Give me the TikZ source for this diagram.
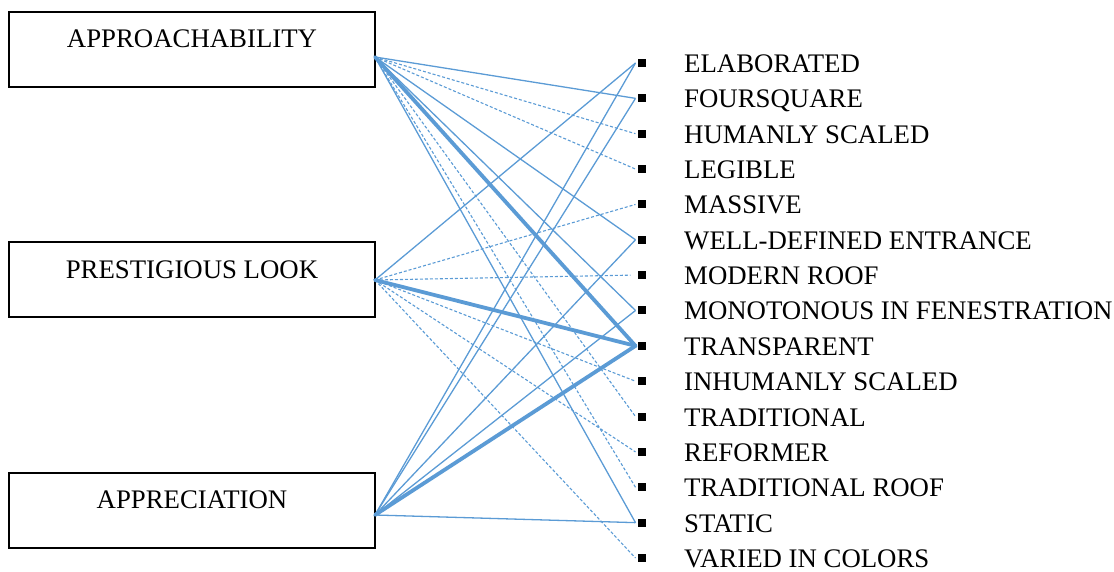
\documentclass[tikz,border=0pt]{standalone}
\usepackage{fontspec}
\setmainfont{Liberation Serif}
\definecolor{lnblue}{RGB}{91,155,213}
\begin{document}
\begin{tikzpicture}[x=1pt,y=-1pt,
  catbox/.style={draw=black,line width=2pt,minimum width=366pt,inner sep=0pt,
    text height=36pt,text depth=39pt,font=\fontsize{26.8}{30}\selectfont},
  bul/.style={fill=black,minimum size=8pt,inner sep=0pt,outer sep=2.5pt},
  lab/.style={anchor=base west,inner sep=0pt,font=\fontsize{26.8}{30}\selectfont},
  solidln/.style={draw=lnblue,line width=1.3pt},
  dashln/.style={draw=lnblue,line width=1.1pt,dash pattern=on 3pt off 2pt},
  thickln/.style={draw=lnblue,line width=3.8pt,line cap=round}]
\useasboundingbox (0,0) rectangle (1114,572);
% category boxes
\node[catbox] (A) at (192,49.5) {APPROACHABILITY};
\node[catbox] (P) at (192,279.5) {PRESTIGIOUS LOOK};
\node[catbox] (C) at (192,510) {APPRECIATION};
\coordinate (hA) at (375,57);
\coordinate (hP) at (375,280);
\coordinate (hC) at (375,515);
% items
\foreach \i/\t in {0/ELABORATED,1/FOURSQUARE,2/HUMANLY SCALED,3/LEGIBLE,4/MASSIVE,
  5/WELL-DEFINED ENTRANCE,6/MODERN ROOF,7/MONOTONOUS IN FENESTRATION,8/TRANSPARENT,
  9/INHUMANLY SCALED,10/TRADITIONAL,11/REFORMER,12/TRADITIONAL ROOF,13/STATIC,14/VARIED IN COLORS}{
  \pgfmathsetmacro{\yy}{63+35.357*\i}
  \node[bul] (b\i) at (642,\yy) {};
  \node[lab] (l\i) at (684,\yy+9.5) {\t};
}
% connections from APPROACHABILITY
\draw[solidln] (hA) -- (b1.west);
\draw[dashln] (hA) -- (b2.west);
\draw[dashln] (hA) -- (b3.west);
\draw[solidln] (hA) -- (b5.west);
\draw[solidln] (hA) -- (b7.west);
\draw[dashln] (hA) -- (b10.west);
\draw[dashln] (hA) -- (b12.west);
\draw[solidln] (hA) -- (b13.west);
% connections from PRESTIGIOUS LOOK
\draw[solidln] (hP) -- (b0.west);
\draw[dashln] (hP) -- (b4.west);
\draw[dashln] (hP) -- ([xshift=-5pt]b6.west);
\draw[dashln] (hP) -- (b9.west);
\draw[dashln] (hP) -- (b11.west);
\draw[dashln] (hP) -- (b14.west);
% connections from APPRECIATION
\draw[solidln] (hC) -- (b0.west);
\draw[solidln] (hC) -- (b1.west);
\draw[solidln] (hC) -- (b5.west);
\draw[solidln] (hC) -- (b7.west);
\draw[solidln] (hC) -- (b13.west);
% strong links
\draw[thickln] (hA) -- (b8.west);
\draw[thickln] (hP) -- (b8.west);
\draw[thickln] (hC) -- (b8.west);
\end{tikzpicture}
\end{document}
